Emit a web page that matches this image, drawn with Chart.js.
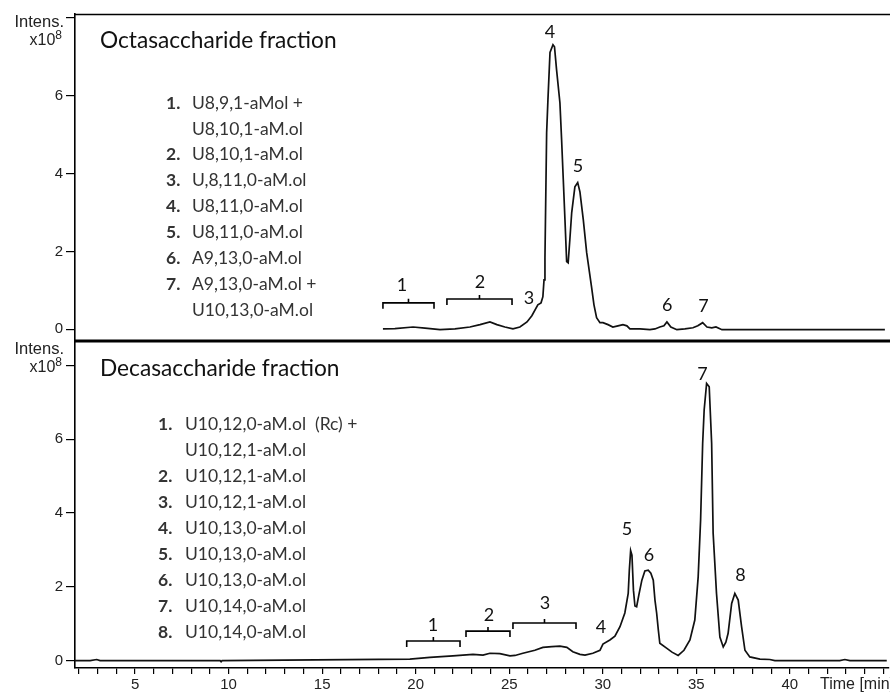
<!DOCTYPE html>
<html><head><meta charset="utf-8">
<script src="https://cdn.jsdelivr.net/npm/chart.js@4/dist/chart.umd.min.js"></script>
<style>html,body{margin:0;padding:0;background:#fff;}canvas{display:block}</style>
</head><body>
<canvas id="c" width="890" height="693"></canvas>
<script>
// ---------- data ----------
const timeTop = [18.25,18.89,19.86,20.50,21.30,22.10,22.90,23.44,23.97,24.34,24.77,25.20,25.57,25.95,26.21,26.53,26.70,26.80,26.86,26.91,27.00,27.07,27.18,27.34,27.42,27.53,27.71,27.80,27.89,27.98,28.07,28.15,28.24,28.34,28.51,28.66,28.78,28.96,29.14,29.40,29.53,29.67,29.85,30.01,30.28,30.54,30.81,31.08,31.29,31.45,31.99,32.52,32.79,33.05,33.27,33.43,33.64,33.96,34.39,34.82,35.08,35.34,35.57,35.83,36.05,36.37,45.08];
const intensityTop = [0.01,0.02,0.06,0.03,-0.01,0.01,0.06,0.12,0.19,0.12,0.06,0.01,0.06,0.19,0.35,0.63,0.68,0.84,1.27,1.84,5.05,5.90,7.11,7.31,7.26,6.67,5.82,4.87,3.84,2.81,1.74,1.71,2.30,3.00,3.66,3.77,3.53,2.81,1.97,1.09,0.63,0.30,0.17,0.17,0.12,0.06,0.09,0.12,0.09,0.01,0.01,-0.01,0.01,0.06,0.09,0.19,0.06,-0.01,0.01,0.04,0.09,0.17,0.06,0.04,0.06,-0.01,-0.01];
const timeBottom = [1.79,2.60,2.95,3.13,9.55,9.60,9.65,19.69,20.76,21.99,23.06,23.60,23.97,24.50,25.04,25.31,25.73,26.37,26.80,27.28,27.71,28.08,28.40,28.78,29.05,29.47,29.85,30.01,30.38,30.65,30.92,31.18,31.36,31.42,31.49,31.56,31.64,31.72,31.81,31.93,32.09,32.25,32.43,32.57,32.70,32.79,32.88,32.97,33.05,33.41,33.70,34.03,34.34,34.66,34.92,35.10,35.23,35.34,35.42,35.55,35.69,35.82,35.90,36.08,36.26,36.44,36.58,36.70,36.89,37.06,37.24,37.42,37.60,37.86,38.40,38.93,39.20,42.67,42.94,43.21,45.18];
const intensityBottom = [0,0,0.03,0,0,-0.03,0,0.04,0.09,0.13,0.17,0.15,0.20,0.19,0.13,0.14,0.20,0.28,0.36,0.38,0.39,0.36,0.24,0.17,0.15,0.20,0.28,0.45,0.56,0.66,0.92,1.29,1.82,2.45,2.98,2.86,1.91,1.48,1.46,1.78,2.18,2.43,2.45,2.37,2.18,1.64,1.29,0.83,0.47,0.34,0.23,0.14,0.28,0.56,1.10,2.27,3.81,5.89,6.79,7.51,7.42,5.89,3.45,1.82,0.64,0.37,0.50,0.74,1.55,1.82,1.64,0.92,0.28,0.10,0.04,0.03,0,0,0.03,0,0];

const xTickLabels = [5,10,15,20,25,30,35,40];
const yTickLabels = [0,2,4,6];
const xAxisTitle = 'Time [min]';
const yAxisTitle = 'Intens.';

const titleTop = 'Octasaccharide fraction';
const titleBottom = 'Decasaccharide fraction';
const listTopNumbers = ['1.','','2.','3.','4.','5.','6.','7.',''];
const listTopNames = ['U8,9,1-aMol +','U8,10,1-aM.ol','U8,10,1-aM.ol','U,8,11,0-aM.ol','U8,11,0-aM.ol','U8,11,0-aM.ol','A9,13,0-aM.ol','A9,13,0-aM.ol +','U10,13,0-aM.ol'];
const listBottomNumbers = ['1.','','2.','3.','4.','5.','6.','7.','8.'];
const listBottomNames = ['U10,12,0-aM.ol  (Rc) +','U10,12,1-aM.ol','U10,12,1-aM.ol','U10,12,1-aM.ol','U10,13,0-aM.ol','U10,13,0-aM.ol','U10,13,0-aM.ol','U10,14,0-aM.ol','U10,14,0-aM.ol'];

const peakLabelsTop = ['1','2','3','4','5','6','7'];
const peakTimesTop = [19.27,23.43,26.05,27.18,28.67,33.45,35.38];
const peakLevelsTop = [1.14,1.20,0.81,7.62,4.20,0.63,0.60];
const bracketStartTop = [18.25,21.67];
const bracketEndTop = [20.98,25.15];
const bracketLevelTop = [0.68,0.78];

const peakLabelsBottom = ['1','2','3','4','5','6','7','8'];
const peakTimesBottom = [20.92,23.92,26.91,29.90,31.29,32.47,35.33,37.36];
const peakLevelsBottom = [0.96,1.23,1.56,0.91,3.56,2.86,7.76,2.32];
const bracketStartBottom = [19.52,22.69,25.20];
const bracketEndBottom = [22.37,25.04,28.57];
const bracketLevelBottom = [0.53,0.80,1.02];

// ---------- chart ----------
const toXY = (ts, vs) => ts.map((t, i) => ({x: t, y: vs[i]}));
const AX = '"Liberation Sans", Arial, sans-serif';
const TXT = 'Lato, "Open Sans", sans-serif';

function fitSize(ctx, text, weight, family, width) {
  ctx.font = weight + ' 100px ' + family;
  return 100 * width / ctx.measureText(text).width;
}

const annot = {
  id: 'annot',
  afterDraw(chart) {
    const ctx = chart.ctx;
    const x = chart.scales.x, yt = chart.scales.yTop, yb = chart.scales.yBottom;
    const ca = chart.chartArea;
    ctx.save();
    ctx.strokeStyle = '#000';
    ctx.lineWidth = 1.5;
    ctx.beginPath(); ctx.moveTo(ca.left, yt.top + 0.5); ctx.lineTo(chart.width, yt.top + 0.5); ctx.stroke();
    ctx.lineWidth = 3;
    ctx.beginPath(); ctx.moveTo(ca.left, yt.bottom); ctx.lineTo(chart.width, yt.bottom); ctx.stroke();

    // y axis titles
    ctx.fillStyle = '#222';
    ctx.textAlign = 'right'; ctx.textBaseline = 'middle';
    [yt, yb].forEach(s => {
      ctx.font = '16.5px ' + AX;
      ctx.fillText(yAxisTitle, ca.left - 11, s.top + 8);
      ctx.font = '12px ' + AX;
      ctx.fillText('8', ca.left - 13, s.top + 22);
      const w8 = ctx.measureText('8').width;
      ctx.font = '16px ' + AX;
      ctx.fillText('x10', ca.left - 13 - w8, s.top + 27);
    });
    // x axis title
    ctx.textAlign = 'left'; ctx.textBaseline = 'middle';
    ctx.font = '16px ' + AX;
    ctx.fillText(xAxisTitle, 820, x.top + 17);

    // titles
    ctx.fillStyle = '#111';
    const tsz = fitSize(ctx, titleBottom, '', TXT, 240);
    ctx.font = tsz.toFixed(1) + 'px ' + TXT;
    ctx.fillText(titleTop, 100, yt.top + 27);
    ctx.fillText(titleBottom, 100, yb.top + 28);

    // lists
    ctx.fillStyle = '#333';
    const lsz = fitSize(ctx, 'U10,12,1-aM.ol', '', TXT, 121);
    function list(nums, names, xn, xt, y0, dy) {
      nums.forEach((n, i) => {
        const y = y0 + i * dy;
        ctx.font = 'bold ' + lsz.toFixed(1) + 'px ' + TXT;
        if (n) ctx.fillText(n, xn, y);
        ctx.font = lsz.toFixed(1) + 'px ' + TXT;
        ctx.fillText(names[i], xt, y);
      });
    }
    list(listTopNumbers, listTopNames, 166, 192, yt.top + 89, 25.9);
    list(listBottomNumbers, listBottomNames, 158, 185, yb.top + 83, 26);

    // peak labels
    ctx.fillStyle = '#111';
    ctx.textAlign = 'center';
    ctx.font = '18px ' + TXT;
    peakLabelsTop.forEach((l, i) => ctx.fillText(l, x.getPixelForValue(peakTimesTop[i]), yt.getPixelForValue(peakLevelsTop[i])));
    peakLabelsBottom.forEach((l, i) => ctx.fillText(l, x.getPixelForValue(peakTimesBottom[i]), yb.getPixelForValue(peakLevelsBottom[i])));

    // brackets
    ctx.strokeStyle = '#000'; ctx.lineWidth = 1.6;
    function bracket(t0, t1, lev, s) {
      const a = x.getPixelForValue(t0), b = x.getPixelForValue(t1), y = s.getPixelForValue(lev), m = (a + b) / 2;
      ctx.beginPath();
      ctx.moveTo(a, y + 6); ctx.lineTo(a, y); ctx.lineTo(b, y); ctx.lineTo(b, y + 6);
      ctx.moveTo(m, y); ctx.lineTo(m, y - 4);
      ctx.stroke();
    }
    bracketStartTop.forEach((t, i) => bracket(t, bracketEndTop[i], bracketLevelTop[i], yt));
    bracketStartBottom.forEach((t, i) => bracket(t, bracketEndBottom[i], bracketLevelBottom[i], yb));
    ctx.restore();
  }
};

function yScale(min, max) {
  return {
    type: 'linear', position: 'left', stack: 'panels', stackWeight: 1,
    min: min, max: max,
    afterFit: s => { s.width = 75; },
    border: {display: true, color: '#000', width: 1.6},
    grid: {drawOnChartArea: false, drawTicks: true, tickLength: 9, color: '#000', lineWidth: 1.2},
    ticks: {stepSize: 2, includeBounds: false, padding: 3, color: '#222',
      font: {family: AX, size: 15},
      callback: v => yTickLabels.includes(v) ? String(v) : ''}
  };
}

new Chart(document.getElementById('c'), {
  type: 'line',
  data: {datasets: [
    {data: toXY(timeTop, intensityTop), yAxisID: 'yTop', borderColor: '#111', borderWidth: 1.7, pointRadius: 0, tension: 0, fill: false},
    {data: toXY(timeBottom, intensityBottom), yAxisID: 'yBottom', borderColor: '#111', borderWidth: 1.7, pointRadius: 0, tension: 0, fill: false}
  ]},
  options: {
    responsive: false, animation: false, devicePixelRatio: 1,
    layout: {padding: {left: 0, right: 1, top: 14, bottom: 0}},
    plugins: {legend: {display: false}, tooltip: {enabled: false}},
    scales: {
      x: {
        type: 'linear', position: 'bottom', min: 1.79, max: 45.3,
        afterFit: s => { s.height = 25; },
        border: {display: true, color: '#000', width: 1.6},
        grid: {drawOnChartArea: false, drawTicks: true, tickLength: 6, color: '#000', lineWidth: 1.2},
        ticks: {stepSize: 1, includeBounds: false, autoSkip: false, maxRotation: 0, padding: 2, color: '#222',
          font: {family: AX, size: 15},
          callback: v => xTickLabels.includes(v) ? String(v) : ''}
      },
      yBottom: yScale(-0.2, 8.66),
      yTop: yScale(-0.3, 8.1)
    }
  },
  plugins: [annot]
});
</script>
</body></html>
